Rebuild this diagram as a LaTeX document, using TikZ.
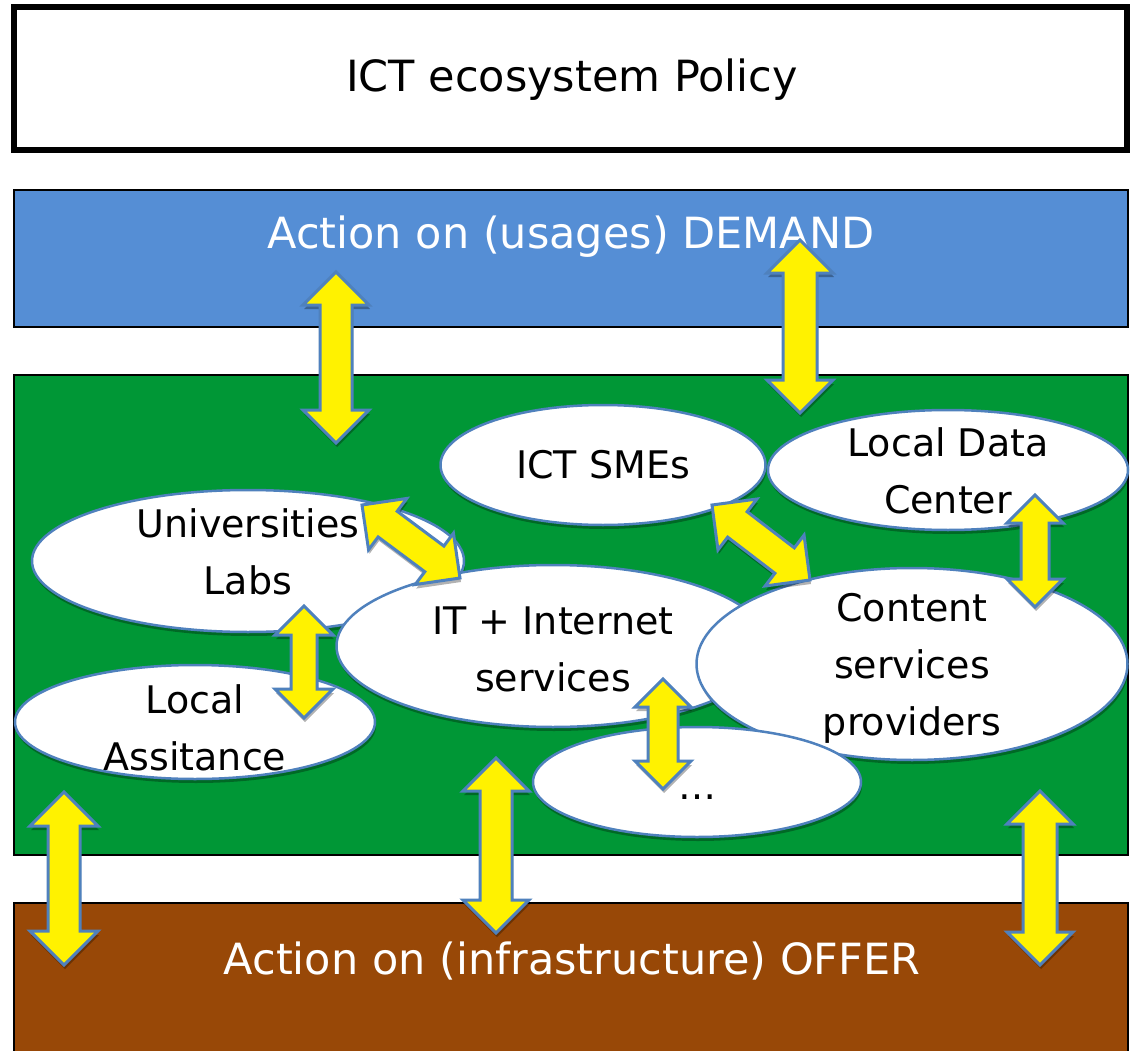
\documentclass[tikz,border=0pt]{standalone}
\usepackage{fontspec}
\setmainfont{DejaVu Sans}
\usetikzlibrary{calc,shapes.geometric,shadows}

\definecolor{demandblue}{RGB}{85,142,213}
\definecolor{ecogreen}{RGB}{0,151,54}
\definecolor{offerbrown}{RGB}{152,72,7}
\definecolor{rimblue}{RGB}{79,129,189}

\tikzset{
  bubble/.style={ellipse, draw=rimblue, line width=2.5pt, fill=white, inner sep=0pt,
    drop shadow={shadow xshift=1pt, shadow yshift=-4pt, opacity=.3, fill=black}},
  bubbletext/.style={align=center, font=\fontsize{38}{57}\selectfont},
  bandtext/.style={anchor=base, font=\fontsize{43}{52}\selectfont},
  blockarrow/.style={fill=yellow, draw=rimblue, line width=3pt,
    drop shadow={shadow xshift=1pt, shadow yshift=-4pt, opacity=.3, fill=black}},
}

% two-headed block arrow: from, to, head half width, shaft half width
\newcommand{\twoway}[4]{%
  \filldraw[blockarrow]
    (#1) -- ($(#1)!#3!(#2)!#3!90:(#2)$) -- ($(#1)!#3!(#2)!#4!90:(#2)$)
    -- ($(#2)!#3!(#1)!#4!-90:(#1)$) -- ($(#2)!#3!(#1)!#3!-90:(#1)$)
    -- (#2) -- ($(#2)!#3!(#1)!#3!90:(#1)$) -- ($(#2)!#3!(#1)!#4!90:(#1)$)
    -- ($(#1)!#3!(#2)!#4!-90:(#2)$) -- ($(#1)!#3!(#2)!#3!-90:(#2)$) -- cycle;}

\begin{document}
\begin{tikzpicture}[x=1pt, y=-1pt]
	\clip (0,0) rectangle (1130,1051);
	\fill[white] (0,0) rectangle (1130,1051);
	% bands
	\draw[line width=6pt] (14,7) rectangle (1127,150);
	\node[bandtext] (policy) at (572,92) {ICT ecosystem Policy};
	\draw[line width=2.5pt, fill=demandblue] (14,190) rectangle (1128,327);
	\node[bandtext, text=white] (demand) at (571,248) {Action on (usages) DEMAND};
	\draw[line width=2.5pt, fill=ecogreen] (14,375) rectangle (1128,855);
	\draw[line width=2.5pt, fill=offerbrown] (14,903) rectangle (1128,1070);
	\node[bandtext, text=white] (offer) at (572,974) {Action on (infrastructure) OFFER};
	% actors
	\node[bubble, minimum width=432, minimum height=142] (labs) at (248,561) {};
	\node[bubbletext] (labstext) at (248,552) {Universities\\Labs};
	\node[bubble, minimum width=360, minimum height=114] (assist) at (195,722) {};
	\node[bubbletext] (assisttext) at (195,728) {Local\\Assitance};
	\node[bubble, minimum width=433, minimum height=162] (itnet) at (553,646) {};
	\node[bubbletext] (itnettext) at (553,649) {IT + Internet\\services};
	\node[bubble, minimum width=431, minimum height=192] (content) at (912,664) {};
	\node[bubbletext] (contenttext) at (912,668) {Content\\services\\providers};
	\node[bubble, minimum width=328, minimum height=110] (more) at (697,782) {};
	\node[bubbletext] (moretext) at (697,797) {\ldots};
	\node[bubble, minimum width=325, minimum height=120] (smes) at (603,465) {};
	\node[bubbletext] (smestext) at (603,465) {ICT SMEs};
	\node[bubble, minimum width=360, minimum height=120] (ldc) at (948,470) {};
	\node[bubbletext] (ldctext) at (948,471) {Local Data\\Center};
	% arrow ends
	\coordinate (dem1a) at (336,272);  \coordinate (dem1b) at (336,443);
	\coordinate (dem2a) at (800,240);  \coordinate (dem2b) at (800,413);
	\coordinate (off1a) at (64,792);   \coordinate (off1b) at (64,965);
	\coordinate (off2a) at (496,758);  \coordinate (off2b) at (496,933);
	\coordinate (off3a) at (1040,791); \coordinate (off3b) at (1040,965);
	\coordinate (labsa) at (304,606);  \coordinate (labsb) at (304,718);
	\coordinate (itnta) at (663,679);  \coordinate (itntb) at (663,789);
	\coordinate (ldca) at (1035,495);  \coordinate (ldcb) at (1035,607);
	\coordinate (diag1a) at (362,505); \coordinate (diag1b) at (460,578);
	\coordinate (diag2a) at (712,505); \coordinate (diag2b) at (810,580);
	% links
	\twoway{dem1a}{dem1b}{33pt}{16pt}
	\twoway{dem2a}{dem2b}{33pt}{17pt}
	\twoway{off1a}{off1b}{34pt}{16pt}
	\twoway{off2a}{off2b}{33pt}{16pt}
	\twoway{off3a}{off3b}{33pt}{17pt}
	\twoway{labsa}{labsb}{29pt}{13pt}
	\twoway{itnta}{itntb}{28pt}{15pt}
	\twoway{ldca}{ldcb}{28pt}{14pt}
	\twoway{diag1a}{diag1b}{32pt}{16pt}
	\twoway{diag2a}{diag2b}{32pt}{16pt}
\end{tikzpicture}
\end{document}
